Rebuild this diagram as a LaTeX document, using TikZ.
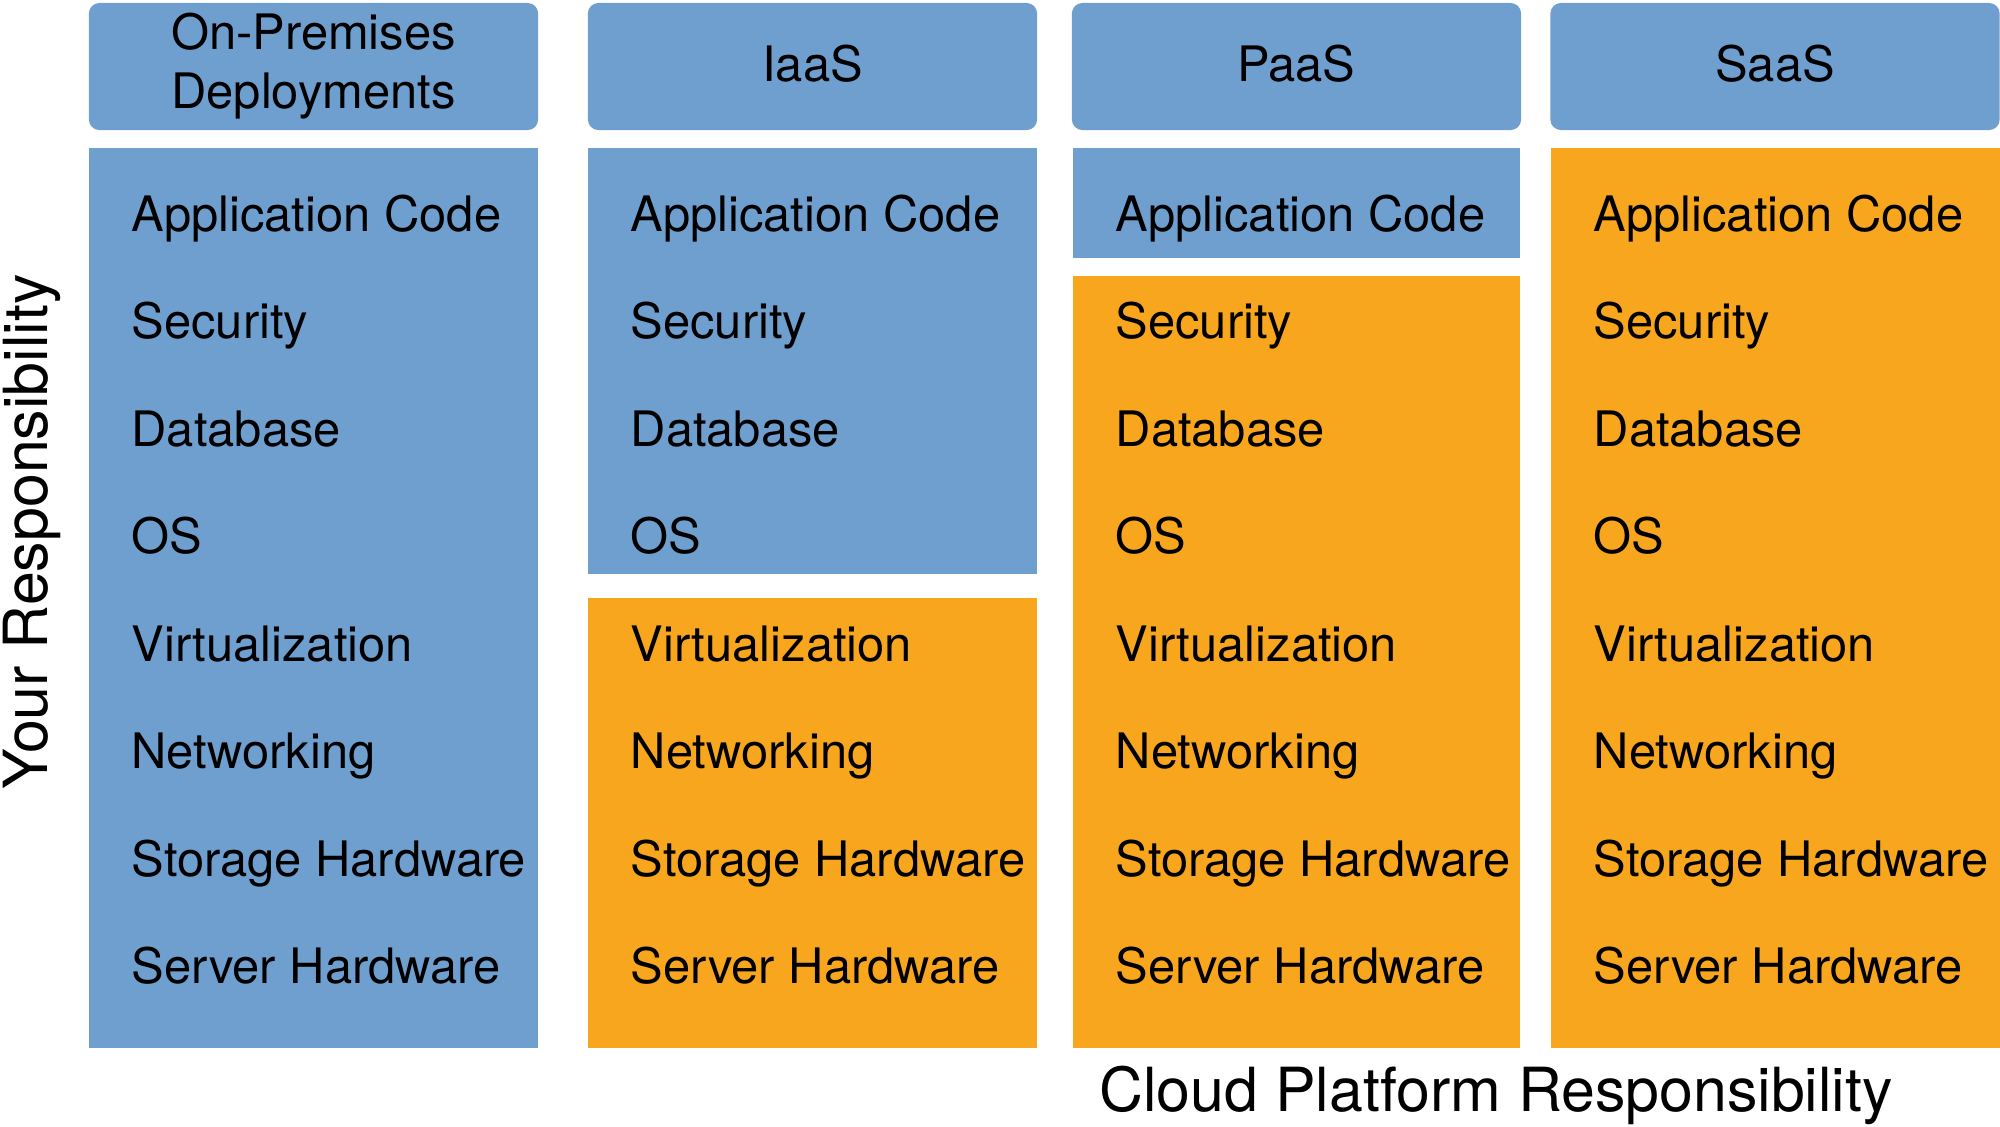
\documentclass[tikz,border=0pt]{standalone}
\usepackage{fontspec}
\setmainfont{TeX Gyre Heros}
\definecolor{ownblue}{RGB}{111,159,207}
\definecolor{cloudorange}{RGB}{248,166,29}
\tikzset{
  header/.style={fill=ownblue, rounded corners=3pt, minimum width=4.49cm, minimum height=1.27cm,
    inner sep=0pt, align=center, font=\fontsize{13.9}{16.8}\selectfont},
  layer/.style={anchor=base west, inner sep=0pt, font=\fontsize{13.9}{16.8}\selectfont},
  sidelabel/.style={inner sep=0pt, font=\fontsize{17.3}{20}\selectfont}
}
\begin{document}
\begin{tikzpicture}[x=0.01cm, y=-0.01cm]
  \useasboundingbox (0,0) rectangle (2000,1126);
  % Column headers
  \node[header] (onp) at (313.5,66.5) {\raisebox{-3pt}{On-Premises}\\\raisebox{-3pt}{Deployments}};
  \node[header] (iaas) at (812.5,66.5) {\raisebox{2pt}{IaaS}};
  \node[header] (paas) at (1296.5,66.5) {\raisebox{2pt}{PaaS}};
  \node[header] (saas) at (1775,66.5) {\raisebox{2pt}{SaaS}};
  % Your part of each stack
  \fill[ownblue] (89,148) rectangle (538,1048);
  \fill[ownblue] (588,148) rectangle (1037,574);
  \fill[ownblue] (1073,148) rectangle (1520,258);
  % Cloud platform part of each stack
  \fill[cloudorange] (588,598) rectangle (1037,1048);
  \fill[cloudorange] (1073,276) rectangle (1520,1048);
  \fill[cloudorange] (1551,148) rectangle (2000,1048);
  % Layers
  \foreach \lbl [count=\i from 0] in {Application Code, Security, Database, OS,
      Virtualization, Networking, Storage Hardware, Server Hardware} {
    \foreach \colx/\colid in {131/onp, 630/iaas, 1115/paas, 1593/saas}
      \node[layer] (\colid-\i) at (\colx, {231+107.5*\i}) {\lbl};
  }
  % Axis labels
  \node[sidelabel, rotate=90] (yours) at (32,532) {Your Responsibility};
  \node[sidelabel] (cloud) at (1496,1095) {Cloud Platform Responsibility};
\end{tikzpicture}
\end{document}
